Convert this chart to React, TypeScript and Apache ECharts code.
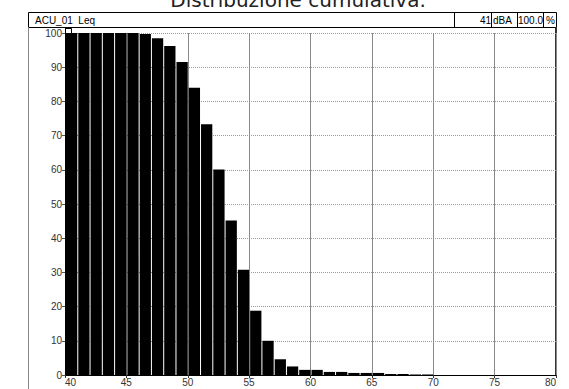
import React, { useEffect, useRef } from "react";
import * as echarts from "echarts";

const titleText = "Distribuzione cumulativa.";
const channelLabel = "ACU_01  Leq";
const levelValue = "41";
const levelUnit = "dBA";
const percentValue = "100.0";
const percentUnit = "%";

const binStarts = [40, 41, 42, 43, 44, 45, 46, 47, 48, 49, 50, 51, 52, 53, 54, 55, 56, 57, 58, 59, 60, 61, 62, 63, 64, 65, 66, 67, 68, 69];
const cumulative = [100, 100, 100, 100, 100, 100, 99.7, 98.5, 96.2, 91.5, 84, 73.3, 60.1, 45.2, 30.8, 18.8, 10.0, 4.6, 2.5, 1.5, 1.5, 0.9, 0.9, 0.6, 0.6, 0.6, 0.3, 0.3, 0.15, 0.15];

const xMin = 40;
const xMax = 80;
const xStep = 5;
const yMin = 0;
const yMax = 100;
const yStep = 10;
const binWidth = 1;

export default function App() {
  const ref = useRef<HTMLDivElement>(null);
  useEffect(() => {
    if (!ref.current) return;
    const chart = echarts.init(ref.current, null, { renderer: "svg" });
    const data = binStarts.map((b, i) => [b, cumulative[i]]);
    const font = "'Liberation Sans', Arial, sans-serif";
    chart.setOption({
      animation: false,
      backgroundColor: "#fff",
      grid: { left: 65, right: 13, top: 33, bottom: 14, containLabel: false },
      xAxis: {
        type: "value",
        min: xMin,
        max: xMax,
        interval: xStep,
        axisLine: { show: true, lineStyle: { color: "#000", width: 1 } },
        axisTick: { show: true, length: 3, lineStyle: { color: "#333" } },
        axisLabel: {
          margin: 2,
          fontSize: 10,
          color: "#333",
          fontFamily: font,
          alignMinLabel: "left",
          alignMaxLabel: "right",
        },
        splitLine: { show: true, lineStyle: { color: "#8a8a8a", width: 1 } },
      },
      yAxis: {
        type: "value",
        min: yMin,
        max: yMax,
        interval: yStep,
        axisLine: { show: true, lineStyle: { color: "#000", width: 1 } },
        axisTick: { show: true, length: 3, lineStyle: { color: "#555" } },
        axisLabel: { margin: 3, fontSize: 10, color: "#333", fontFamily: font },
        splitLine: { show: true, lineStyle: { color: "#999", width: 1, type: [1, 1] } },
      },
      series: [
        {
          type: "custom",
          data,
          renderItem: (params: any, api: any) => {
            const x0 = api.value(0);
            const v = api.value(1);
            const p0 = api.coord([x0, v]);
            const p1 = api.coord([x0 + binWidth, 0]);
            return {
              type: "rect",
              shape: {
                x: p0[0] + 1,
                y: p0[1],
                width: p1[0] - p0[0] - 1,
                height: p1[1] - p0[1],
              },
              style: { fill: "#000" },
            };
          },
        },
      ],
      graphic: [
        {
          type: "text",
          x: 298,
          y: 10,
          style: {
            text: titleText,
            fontFamily: "'DejaVu Sans', sans-serif",
            fontSize: 20,
            fill: "#222",
            align: "center",
            verticalAlign: "bottom",
          },
        },
        {
          type: "rect",
          shape: { x: 28.5, y: 12.5, width: 528, height: 15 },
          style: { fill: "none", stroke: "#000", lineWidth: 1 },
        },
        {
          type: "rect",
          shape: { x: 454.5, y: 12.5, width: 37, height: 15 },
          style: { fill: "none", stroke: "#000", lineWidth: 1 },
        },
        {
          type: "rect",
          shape: { x: 517.5, y: 12.5, width: 26, height: 15 },
          style: { fill: "none", stroke: "#000", lineWidth: 1 },
        },
        {
          type: "text",
          x: 35,
          y: 20,
          style: { text: channelLabel, fontFamily: font, fontSize: 10, fill: "#000", verticalAlign: "middle" },
        },
        {
          type: "text",
          x: 491,
          y: 20,
          style: { text: levelValue, fontFamily: font, fontSize: 10, fill: "#000", align: "right", verticalAlign: "middle" },
        },
        {
          type: "text",
          x: 493,
          y: 20,
          style: { text: levelUnit, fontFamily: font, fontSize: 10, fill: "#000", verticalAlign: "middle" },
        },
        {
          type: "text",
          x: 518,
          y: 20,
          style: { text: percentValue, fontFamily: font, fontSize: 10, fill: "#000", verticalAlign: "middle" },
        },
        {
          type: "text",
          x: 546,
          y: 20,
          style: { text: percentUnit, fontFamily: font, fontSize: 10, fill: "#000", verticalAlign: "middle" },
        },
        {
          type: "line",
          shape: { x1: 28.5, y1: 27.5, x2: 28.5, y2: 389 },
          style: { stroke: "#888", lineWidth: 1 },
        },
        {
          type: "line",
          shape: { x1: 65.5, y1: 27.5, x2: 65.5, y2: 33 },
          style: { stroke: "#000", lineWidth: 1 },
        },
        {
          type: "line",
          shape: { x1: 556, y1: 27.5, x2: 556, y2: 375 },
          style: { stroke: "#333", lineWidth: 2 },
        },
        {
          type: "rect",
          shape: { x: 65.5, y: 28.5, width: 6, height: 5 },
          style: { fill: "#fff", stroke: "#000", lineWidth: 1 },
        },
      ],
    });
    return () => chart.dispose();
  }, []);
  return <div ref={ref} style={{ width: 569, height: 389, position: "absolute", left: 0, top: 0 }} />;
}
